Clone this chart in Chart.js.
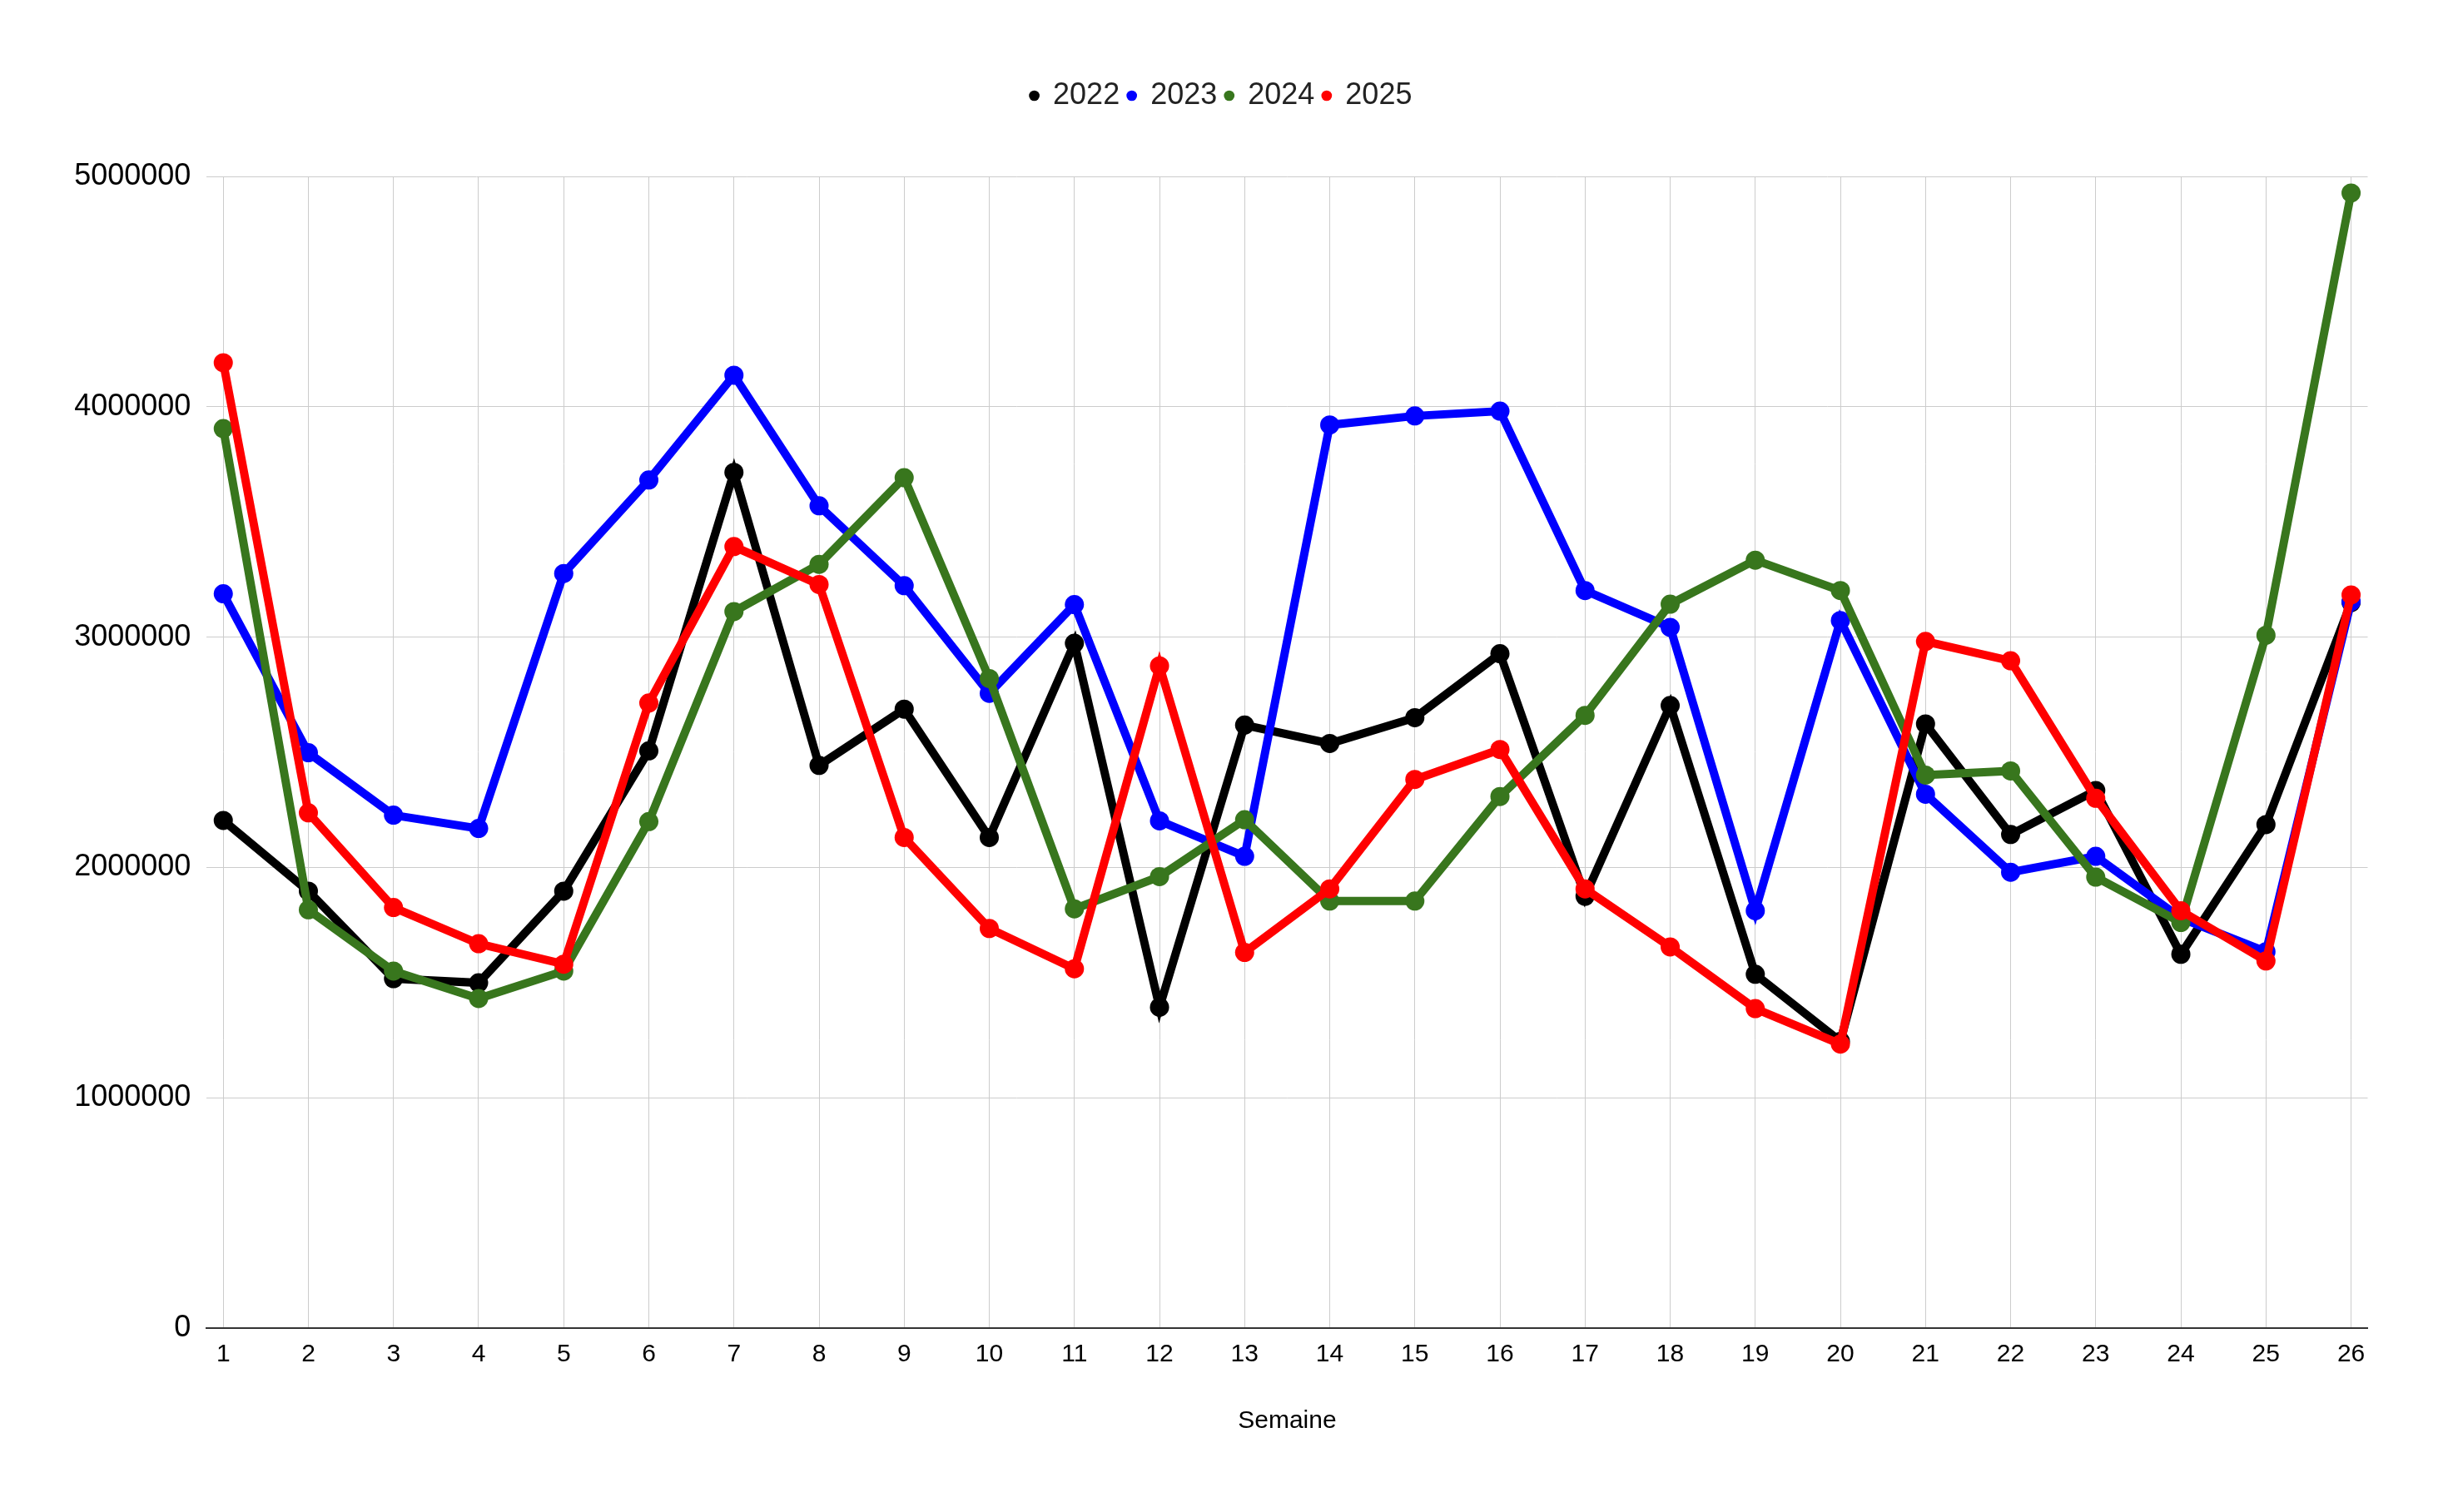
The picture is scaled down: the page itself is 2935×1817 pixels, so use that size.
<!DOCTYPE html>
<html lang="fr">
<head>
<meta charset="utf-8">
<title>Semaine</title>
<script src="https://cdn.jsdelivr.net/npm/chart.js@4.4.1/dist/chart.umd.min.js"></script>
<style>
    html, body { margin: 0; padding: 0; background: #ffffff; }
    #wrap { width: 2935px; height: 1817px; position: relative; }
</style>
</head>
<body>
<div id="wrap"><canvas id="weekChart"></canvas></div>
<script>
const weeks = [1, 2, 3, 4, 5, 6, 7, 8, 9, 10, 11, 12, 13, 14, 15, 16, 17, 18, 19, 20, 21, 22, 23, 24, 25, 26];
const seriesNames = ["2022", "2023", "2024", "2025"];
const seriesColors = ["#000000", "#0000ff", "#38761d", "#ff0000"];

const values2022 = [2204000, 1897000, 1517000, 1499000, 1897000, 2506000, 3715000, 2443000, 2687000, 2130000,
    2973000, 1393000, 2618000, 2538000, 2650000, 2928000, 1875000, 2703000, 1536000, 1245000,
    2623000, 2143000, 2334000, 1623000, 2186000, 3150000];
const values2023 = [3188000, 2498000, 2227000, 2169000, 3276000, 3682000, 4137000, 3570000, 3223000, 2756000,
    3141000, 2202000, 2048000, 3921000, 3960000, 3981000, 3202000, 3042000, 1812000, 3072000,
    2318000, 1979000, 2048000, 1780000, 1634000, 3154000];
const values2024 = [3905000, 1816000, 1550000, 1431000, 1550000, 2199000, 3111000, 3316000, 3692000, 2820000,
    1820000, 1960000, 2207000, 1854000, 1854000, 2308000, 2660000, 3143000, 3334000, 3202000,
    2401000, 2419000, 1958000, 1761000, 3008000, 4928000];
const values2025 = [4191000, 2237000, 1826000, 1669000, 1580000, 2714000, 3393000, 3228000, 2130000, 1735000,
    1560000, 2875000, 1631000, 1907000, 2382000, 2512000, 1907000, 1655000, 1387000, 1233000,
    2981000, 2897000, 2300000, 1812000, 1594000, 3183000];

const yTicks = [0, 1000000, 2000000, 3000000, 4000000, 5000000];
const xTitle = "Semaine";

const allValues = [values2022, values2023, values2024, values2025];
const fontFamily = '"Liberation Sans", Arial, sans-serif';

// extra room between the legend and the plot
const legendGap = {
    id: 'legendGap',
    beforeLayout(chart) {
        const legend = chart.legend;
        if (legend && !legend._gapAdded) {
            const fit = legend.fit;
            legend.fit = function () {
                fit.call(this);
                this.height += 69;
            };
            legend._gapAdded = true;
        }
    }
};

const datasets = seriesNames.map((name, i) => ({
    label: name,
    data: weeks.map((w, j) => ({ x: w, y: allValues[i][j] })),
    borderColor: seriesColors[i],
    backgroundColor: seriesColors[i],
    pointBackgroundColor: seriesColors[i],
    pointBorderWidth: 0,
    pointRadius: 11.5,
    pointHoverRadius: 11.5,
    borderWidth: 10,
    tension: 0,
    order: seriesNames.length - i
}));

new Chart(document.getElementById('weekChart'), {
    type: 'line',
    data: { datasets: datasets },
    plugins: [legendGap],
    options: {
        responsive: true,
        maintainAspectRatio: false,
        devicePixelRatio: 1,
        animation: false,
        layout: { padding: { top: 87, left: 90, right: 90.5, bottom: 0 } },
        plugins: {
            legend: {
                position: 'top',
                align: 'center',
                labels: {
                    usePointStyle: true,
                    pointStyle: 'circle',
                    boxWidth: 9,
                    boxHeight: 9,
                    padding: 10,
                    color: '#222222',
                    font: { family: fontFamily, size: 36 },
                    sort: (a, b) => a.datasetIndex - b.datasetIndex
                }
            },
            tooltip: { enabled: false }
        },
        scales: {
            x: {
                type: 'linear',
                min: 0.805,
                max: 26.195,
                afterBuildTicks: scale => {
                    scale.ticks = weeks.map(w => ({ value: w }));
                },
                afterFit: scale => { scale.height = 221; },
                ticks: {
                    padding: 14,
                    color: '#000000',
                    font: { family: fontFamily, size: 30 },
                    callback: value => String(value)
                },
                grid: { color: '#cccccc', lineWidth: 1, drawTicks: false },
                border: { display: true, color: '#333333', width: 2 },
                title: {
                    display: true,
                    text: xTitle,
                    color: '#000000',
                    font: { family: fontFamily, size: 30 },
                    padding: { top: 0, bottom: 91 }
                }
            },
            y: {
                min: 0,
                max: 5000000,
                afterBuildTicks: scale => {
                    scale.ticks = yTicks.map(v => ({ value: v }));
                },
                afterFit: scale => { scale.width = 158.3; },
                ticks: {
                    padding: 19,
                    color: '#000000',
                    font: { family: fontFamily, size: 36 },
                    callback: value => String(value)
                },
                grid: { color: '#cccccc', lineWidth: 1, drawTicks: false },
                border: { display: false }
            }
        }
    }
});
</script>
</body>
</html>
